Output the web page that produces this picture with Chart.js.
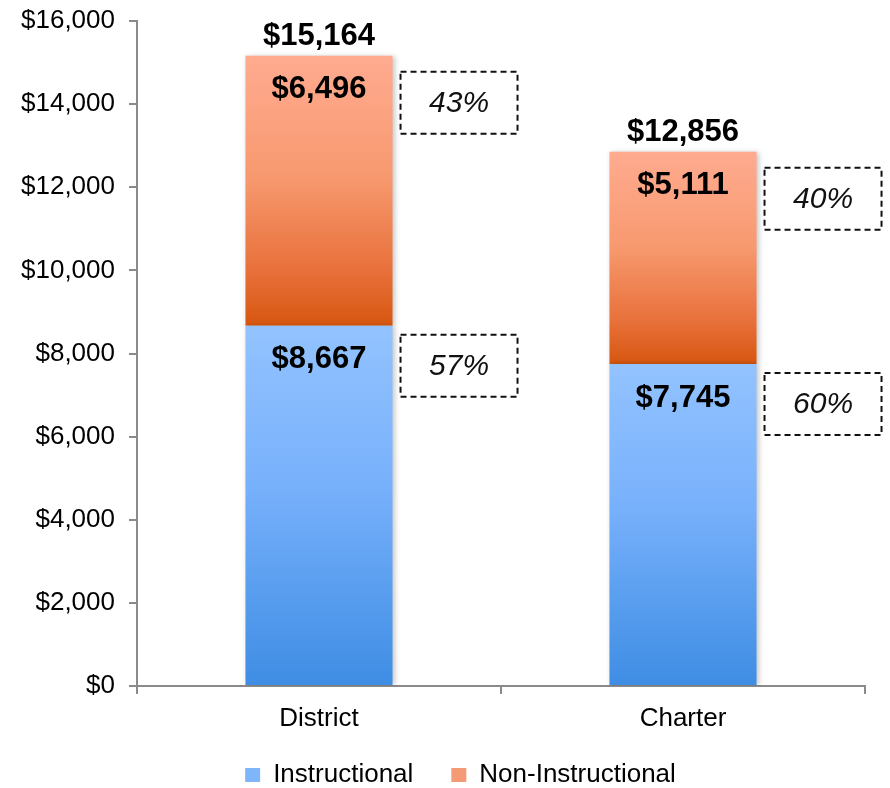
<!DOCTYPE html>
<html>
<head>
<meta charset="utf-8">
<script src="https://cdn.jsdelivr.net/npm/chart.js@4"></script>
<style>
  html, body { margin: 0; padding: 0; background: #fff; }
  #chart { display: block; }
</style>
</head>
<body>
<canvas id="chart" width="890" height="788"></canvas>
<script>
// data
const categories = ['District', 'Charter'];
const instructional = [8667, 7745];
const nonInstructional = [6496, 5111];
const totals = [15164, 12856];
const instrShare = [57, 60];
const nonInstrShare = [43, 40];
const yMax = 16000;
const yStep = 2000;

const FONT = "'Liberation Sans', Arial, sans-serif";
const AXIS_GRAY = '#8a8a8a';

const blueStops = [[0, '#93c3ff'], [0.45, '#77b0fb'], [1, '#3e8de4']];
const orangeStops = [[0, '#ffab90'], [0.45, '#f7996f'], [0.8, '#e8703a'], [1, '#d6560f']];
const legendFill = ['#7fb6fa', '#f49a76'];

const money = v => '$' + v.toLocaleString('en-US');

// vertical gradient per bar segment, built from the y scale
function segmentFill(stops, solid) {
  return (ctx) => {
    const chart = ctx.chart;
    if (ctx.dataIndex === undefined || !chart.chartArea || !chart.scales.y) return solid;
    const y = chart.scales.y;
    const i = ctx.dataIndex;
    const base = ctx.datasetIndex === 0 ? 0 : instructional[i];
    const top = base + chart.data.datasets[ctx.datasetIndex].data[i];
    const g = chart.ctx.createLinearGradient(0, y.getPixelForValue(top), 0, y.getPixelForValue(base));
    stops.forEach(([o, c]) => g.addColorStop(o, c));
    return g;
  };
}

// soft shadow on the bars
const barShadow = {
  id: 'barShadow',
  beforeDatasetDraw(chart) {
    const c = chart.ctx;
    c.save();
    c.shadowColor = 'rgba(0, 0, 0, 0.22)';
    c.shadowBlur = 5;
    c.shadowOffsetX = 2;
    c.shadowOffsetY = 0;
  },
  afterDatasetDraw(chart) {
    chart.ctx.restore();
  }
};

// nudge the legend: a bit right and up
const legendNudge = {
  id: 'legendNudge',
  afterLayout(chart) {
    const lg = chart.legend;
    if (!lg) return;
    lg.left += 28; lg.right += 28;
    lg.top -= 12; lg.bottom -= 12;
  }
};

// value labels + dashed percentage boxes
const barLabels = {
  id: 'barLabels',
  afterDatasetsDraw(chart) {
    const c = chart.ctx;
    const m0 = chart.getDatasetMeta(0);
    const m1 = chart.getDatasetMeta(1);

    const drawBox = (left, cy, text) => {
      const w = 117, h = 62;
      c.save();
      c.setLineDash([6, 4]);
      c.lineWidth = 2;
      c.strokeStyle = '#111';
      c.strokeRect(left, cy - h / 2, w, h);
      c.setLineDash([]);
      c.font = `italic 30px ${FONT}`;
      c.fillStyle = '#111';
      c.textAlign = 'center';
      c.textBaseline = 'middle';
      c.fillText(text, left + w / 2, cy + 1);
      c.restore();
    };

    categories.forEach((_, i) => {
      const b0 = m0.data[i];
      const b1 = m1.data[i];
      c.save();
      c.fillStyle = '#000';
      c.font = `bold 31px ${FONT}`;
      c.textAlign = 'center';
      c.textBaseline = 'middle';
      c.fillText(money(totals[i]), b1.x, b1.y - 19);
      c.fillText(money(nonInstructional[i]), b1.x, b1.y + 34);
      c.fillText(money(instructional[i]), b0.x, b0.y + 34);
      c.restore();

      const boxLeft = b1.x + b1.width / 2 + 8;
      drawBox(boxLeft, b1.y + 47, nonInstrShare[i] + '%');
      drawBox(boxLeft, b0.y + 40, instrShare[i] + '%');
    });
  }
};

new Chart(document.getElementById('chart'), {
  type: 'bar',
  data: {
    labels: categories,
    datasets: [
      {
        label: 'Instructional',
        data: instructional,
        backgroundColor: segmentFill(blueStops, legendFill[0]),
        borderWidth: 0
      },
      {
        label: 'Non-Instructional',
        data: nonInstructional,
        backgroundColor: segmentFill(orangeStops, legendFill[1]),
        borderWidth: 0
      }
    ]
  },
  options: {
    responsive: false,
    animation: false,
    events: [],
    barPercentage: 0.8,
    categoryPercentage: 0.505,
    layout: { padding: { top: 21, right: 25, left: 0, bottom: -22 } },
    plugins: {
      legend: {
        position: 'bottom',
        labels: {
          boxWidth: 15,
          boxHeight: 14,
          padding: 38,
          color: '#000',
          font: { family: FONT, size: 26 },
          generateLabels: chart => {
            const items = Chart.defaults.plugins.legend.labels.generateLabels(chart);
            items.forEach((it, k) => { it.fillStyle = legendFill[k]; it.lineWidth = 0; });
            return items;
          }
        }
      },
      tooltip: { enabled: false }
    },
    scales: {
      x: {
        stacked: true,
        afterFit: scale => { scale.height = 50; },
        grid: {
          drawOnChartArea: false,
          drawTicks: true,
          tickLength: 8,
          color: AXIS_GRAY,
          lineWidth: 2
        },
        border: { color: AXIS_GRAY, width: 2 },
        ticks: {
          color: '#000',
          padding: 9,
          font: { family: FONT, size: 26 }
        }
      },
      y: {
        stacked: true,
        min: 0,
        max: yMax,
        afterFit: scale => {
          scale.width = 137;
          scale.paddingTop = 0;
          scale.paddingBottom = 0;
        },
        grid: {
          drawOnChartArea: false,
          drawTicks: true,
          tickLength: 8,
          color: AXIS_GRAY,
          lineWidth: 2
        },
        border: { color: AXIS_GRAY, width: 2 },
        ticks: {
          stepSize: yStep,
          color: '#000',
          padding: 14,
          font: { family: FONT, size: 26 },
          callback: v => money(v)
        }
      }
    }
  },
  plugins: [barShadow, legendNudge, barLabels]
});
</script>
</body>
</html>
